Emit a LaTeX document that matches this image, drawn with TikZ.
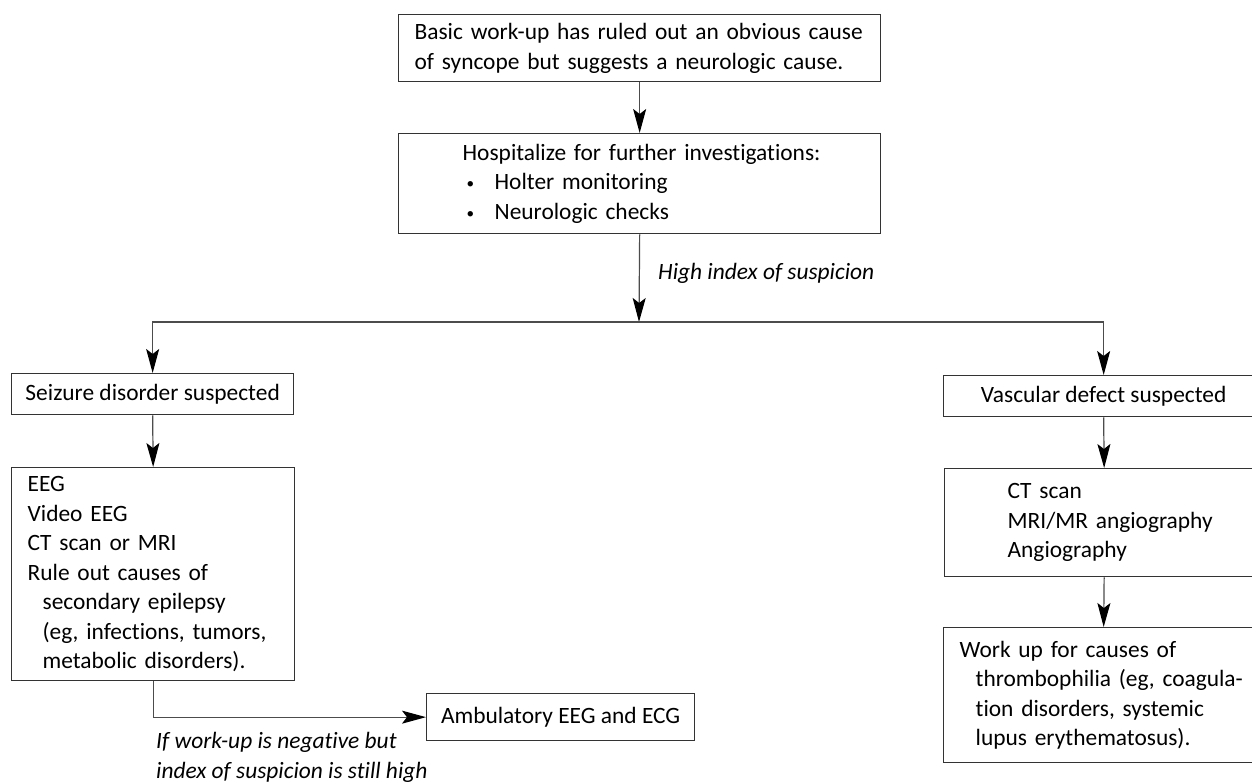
\documentclass[tikz,border=0pt]{standalone}
\usepackage{fontspec}
\setmainfont{Carlito}[Ligatures=NoCommon]
\usetikzlibrary{arrows.meta}
\newcommand{\ind}[1]{\hspace*{#1}}
\newcommand{\smbul}{\makebox[32pt][l]{\,\raisebox{1pt}{\scalebox{0.65}{•}}}}
\tikzset{
  box/.style={draw=black!80, line width=1.3pt, rectangle, inner xsep=0pt, inner ysep=0pt, anchor=north west, font=\fontsize{23.4}{29.5}\selectfont},
  lbox/.style={box, align=left},
  cbox/.style={box, align=center},
  conn/.style={draw=black!70, line width=1.2pt, -{Stealth[length=24pt,width=13pt,inset=5pt,black]}},
  lab/.style={font=\fontsize{23.4}{29.5}\selectfont\itshape, inner sep=0pt, align=left}
}
\begin{document}
\begin{tikzpicture}[x=1pt,y={(0pt,-1pt)}]
\useasboundingbox (0,0) rectangle (1252,783);
\fill[white] (0,0) rectangle (1252,783);

\node[lbox, minimum width=482pt, minimum height=67pt, text width=482pt] (top) at (398,14)
  {\ind{16pt}Basic work-up has ruled out an obvious cause\\\ind{16pt}of syncope but suggests a neurologic cause.};

\node[lbox, minimum width=482pt, minimum height=100pt, text width=482pt] (hosp) at (398,133)
  {\ind{64pt}Hospitalize for further investigations:\\\ind{64pt}\smbul Holter monitoring\\\ind{64pt}\smbul Neurologic checks};

\coordinate (split) at (639,322);

\node[cbox, minimum width=282pt, minimum height=41pt] (seizure) at (11,373) {Seizure disorder suspected};

\node[lbox, minimum width=283pt, minimum height=213pt, text width=283pt] (eeg) at (11,467)
  {\ind{16pt}EEG\\\ind{16pt}Video EEG\\\ind{16pt}CT scan or MRI\\\ind{16pt}Rule out causes of\\\ind{31pt}secondary epilepsy\\\ind{31pt}(eg, infections, tumors,\\\ind{31pt}metabolic disorders).};

\node[cbox, minimum width=268pt, minimum height=47pt] (amb) at (426,693) {Ambulatory EEG and ECG};

\node[cbox, minimum width=320pt, minimum height=41pt] (vasc) at (943,375) {Vascular defect suspected};

\node[lbox, minimum width=319pt, minimum height=108pt, text width=319pt] (ct) at (944,468)
  {\ind{63pt}CT scan\\\ind{63pt}MRI/MR angiography\\\ind{63pt}Angiography};

\node[lbox, minimum width=320pt, minimum height=135pt, text width=320pt] (work) at (943,627)
  {\ind{16pt}Work up for causes of\\\ind{32pt}thrombophilia (eg, coagula-\\\ind{32pt}tion disorders, systemic\\\ind{32pt}lupus erythematosus).};

\draw[conn] (top.south) -- (hosp.north);
\draw[conn] (hosp.south) -- (split);
\draw[conn] (split) -| (seizure.north);
\draw[conn] (split) -| (vasc.north);
\draw[conn] (seizure.south) -- (eeg.north);
\draw[conn] (vasc.south) -- (ct.north);
\draw[conn] (ct.south) -- (work.north);
\draw[conn] (eeg.south) |- (amb.west);

\node[lab, anchor=base west] (hlab) at (658,280) {High index of suspicion};
\node[lab, anchor=base west] (ilab) at (156,778) {If work-up is negative but\\index of suspicion is still high};
\end{tikzpicture}
\end{document}
